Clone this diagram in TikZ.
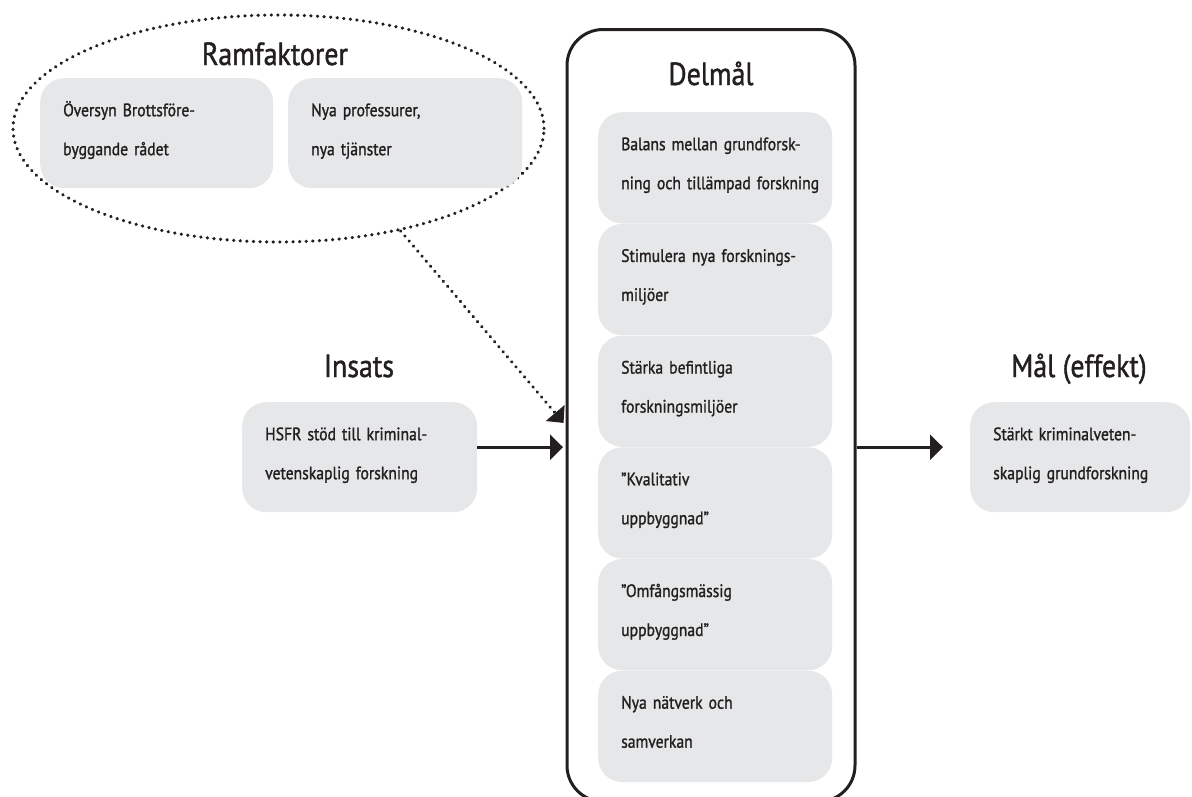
\documentclass[tikz,border=0pt]{standalone}
\usepackage{xcolor}
\usepackage{tikz}
\usepackage{fontspec}
\setmainfont[FakeStretch=0.87,FakeBold=1.2]{PT Sans}
\usetikzlibrary{shapes, arrows.meta, positioning}

\definecolor{ink}{HTML}{231F20}
\definecolor{boxgray}{HTML}{E6E7E8}

\begin{document}
\begin{tikzpicture}[x=1pt,y=-1pt,color=ink,
    item/.style={fill=boxgray,rounded corners=24pt,inner sep=0pt,anchor=north west,
      text width=#1,text height=38pt,text depth=72pt,
      font=\fontsize{18}{39}\selectfont,
      execute at begin node={\raggedright\leftskip=23pt\relax}},
    goal/.style={item=234pt,text depth=73.3pt},
    heading/.style={font=\fontsize{32}{32}\selectfont,anchor=base,inner sep=0pt},
    flow/.style={draw=ink,line width=2.8pt,-{Triangle[length=13pt,width=25pt]}},
    dotflow/.style={draw=ink,line width=3.3pt,dash pattern=on 0.3pt off 6.3pt,line cap=round,
      -{Triangle[length=13pt,width=24pt]}}]
  \useasboundingbox (0,0) rectangle (1192,796);
  \clip (0,0) rectangle (1192,796);

  % Ramfaktorer
  \node[draw,ellipse,line width=3.3pt,dash pattern=on 0.3pt off 6.3pt,line cap=round,
    minimum width=531pt,minimum height=227pt,inner sep=0pt] (ram) at (278.5,128.5) {};
  \node[heading] (ramtitle) at (275,65) {Ramfaktorer};
  \node[item=233pt] (ram1) at (40,78) {Översyn Brottsföre-\\byggande rådet};
  \node[item=234pt] (ram2) at (288,78) {Nya professurer,\\nya tjänster};

  % Delmål
  \node[draw,line width=3pt,rounded corners=36pt,minimum width=288pt,
    minimum height=772pt,anchor=north] (delmal) at (711,28) {};
  \node[heading] (delmaltitle) at (711,85) {Delmål};
  \node[goal] (d1) at (598,112) {Balans mellan grundforsk-\\ning och tillämpad forskning};
  \node[goal,below=0pt of d1] (d2) {Stimulera nya forsknings-\\miljöer};
  \node[goal,below=0pt of d2] (d3) {Stärka befintliga\\forskningsmiljöer};
  \node[goal,below=0pt of d3] (d4) {”Kvalitativ\\uppbyggnad”};
  \node[goal,below=0pt of d4] (d5) {”Omfångsmässig\\uppbyggnad”};
  \node[goal,below=0pt of d5] (d6) {Nya nätverk och\\samverkan};

  % Insats
  \node[heading] (insatstitle) at (359,377) {Insats};
  \node[item=235pt] (insats) at (242,402) {HSFR stöd till kriminal-\\vetenskaplig forskning};

  % Mål
  \node[heading] (maltitle) at (1079,377) {Mål (effekt)};
  \node[item=220pt] (mal) at (970,402) {Stärkt kriminalveten-\\skaplig grundforskning};

  \draw[flow,shorten >=2.5pt] ([yshift=10pt]insats.east) -- ([yshift=10pt]insats.east -| delmal.west);
  \draw[flow,shorten >=27pt] ([yshift=10pt]mal.west -| delmal.east) -- ([yshift=10pt]mal.west);
  \draw[dotflow,shorten >=3pt] (ram.-40) -- ([yshift=32pt]insats.east -| delmal.west);
\end{tikzpicture}
\end{document}
